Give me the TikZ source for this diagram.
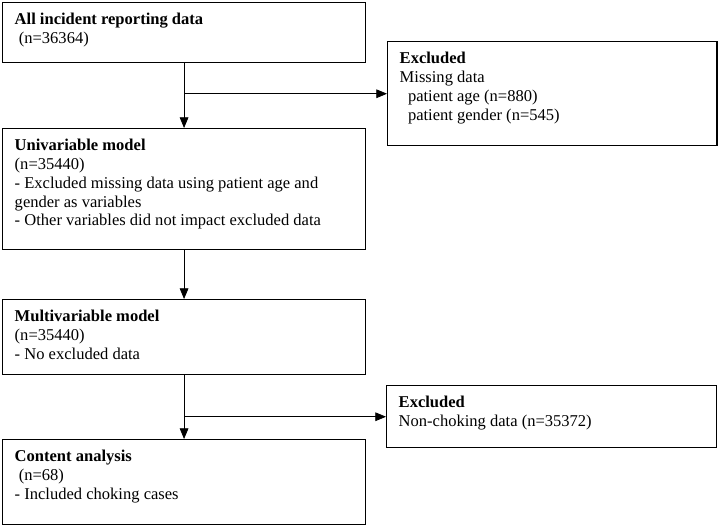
\documentclass[tikz,border=0pt]{standalone}
\usepackage{fontspec}
\setmainfont{Liberation Serif}
\usetikzlibrary{positioning,arrows.meta,calc}

\tikzset{
  stage/.style={draw, line width=1.1pt, anchor=north west, inner xsep=9pt, inner ysep=0pt},
  flow/.style={-{Triangle[length=8pt,width=6.5pt]}, line width=0.6pt},
}
\newcommand{\boxtext}[3]{\parbox[c][#2][t]{#1}{\vspace*{7.5pt}#3}}

\begin{document}
\begin{tikzpicture}[x=0.75pt, y=-0.75pt, font=\fontsize{12.4}{14.2}\selectfont]

  \useasboundingbox (0,0) rectangle (718,525);

  \node[stage] (all) at (2,2) {\boxtext{254pt}{45pt}{\textbf{All incident reporting data}\\ \hspace*{0.25em}(n=36364)}};
  \node[stage] (uni) at (2,128) {\boxtext{254pt}{90.75pt}{\textbf{Univariable model}\\ (n=35440)\\ - Excluded missing data using patient age and\\ gender as variables\\ - Other variables did not impact excluded data}};
  \node[stage] (multi) at (2,299) {\boxtext{254pt}{56.25pt}{\textbf{Multivariable model}\\ (n=35440)\\ - No excluded data}};
  \node[stage] (content) at (2,439) {\boxtext{254pt}{63.5pt}{\textbf{Content analysis}\\ \hspace*{0.25em}(n=68)\\ - Included choking cases}};

  \node[stage] (ex1) at (387,41) {\boxtext{229pt}{78pt}{\textbf{Excluded}\\ Missing data\\ \hspace*{0.5em}patient age (n=880)\\ \hspace*{0.5em}patient gender (n=545)}};
  \node[stage] (ex2) at (386,385) {\boxtext{229.5pt}{46.5pt}{\textbf{Excluded}\\ Non-choking data (n=35372)}};

  \coordinate (split1) at (all.south |- ex1.west);
  \coordinate (split2) at (multi.south |- ex2.west);

  \path[flow] (all.south) edge (uni.north);
  \path[flow] (uni.south) edge (multi.north);
  \path[flow] (multi.south) edge (content.north);
  \path[flow] (split1) edge (ex1.west);
  \path[flow] (split2) edge (ex2.west);

\end{tikzpicture}
\end{document}
